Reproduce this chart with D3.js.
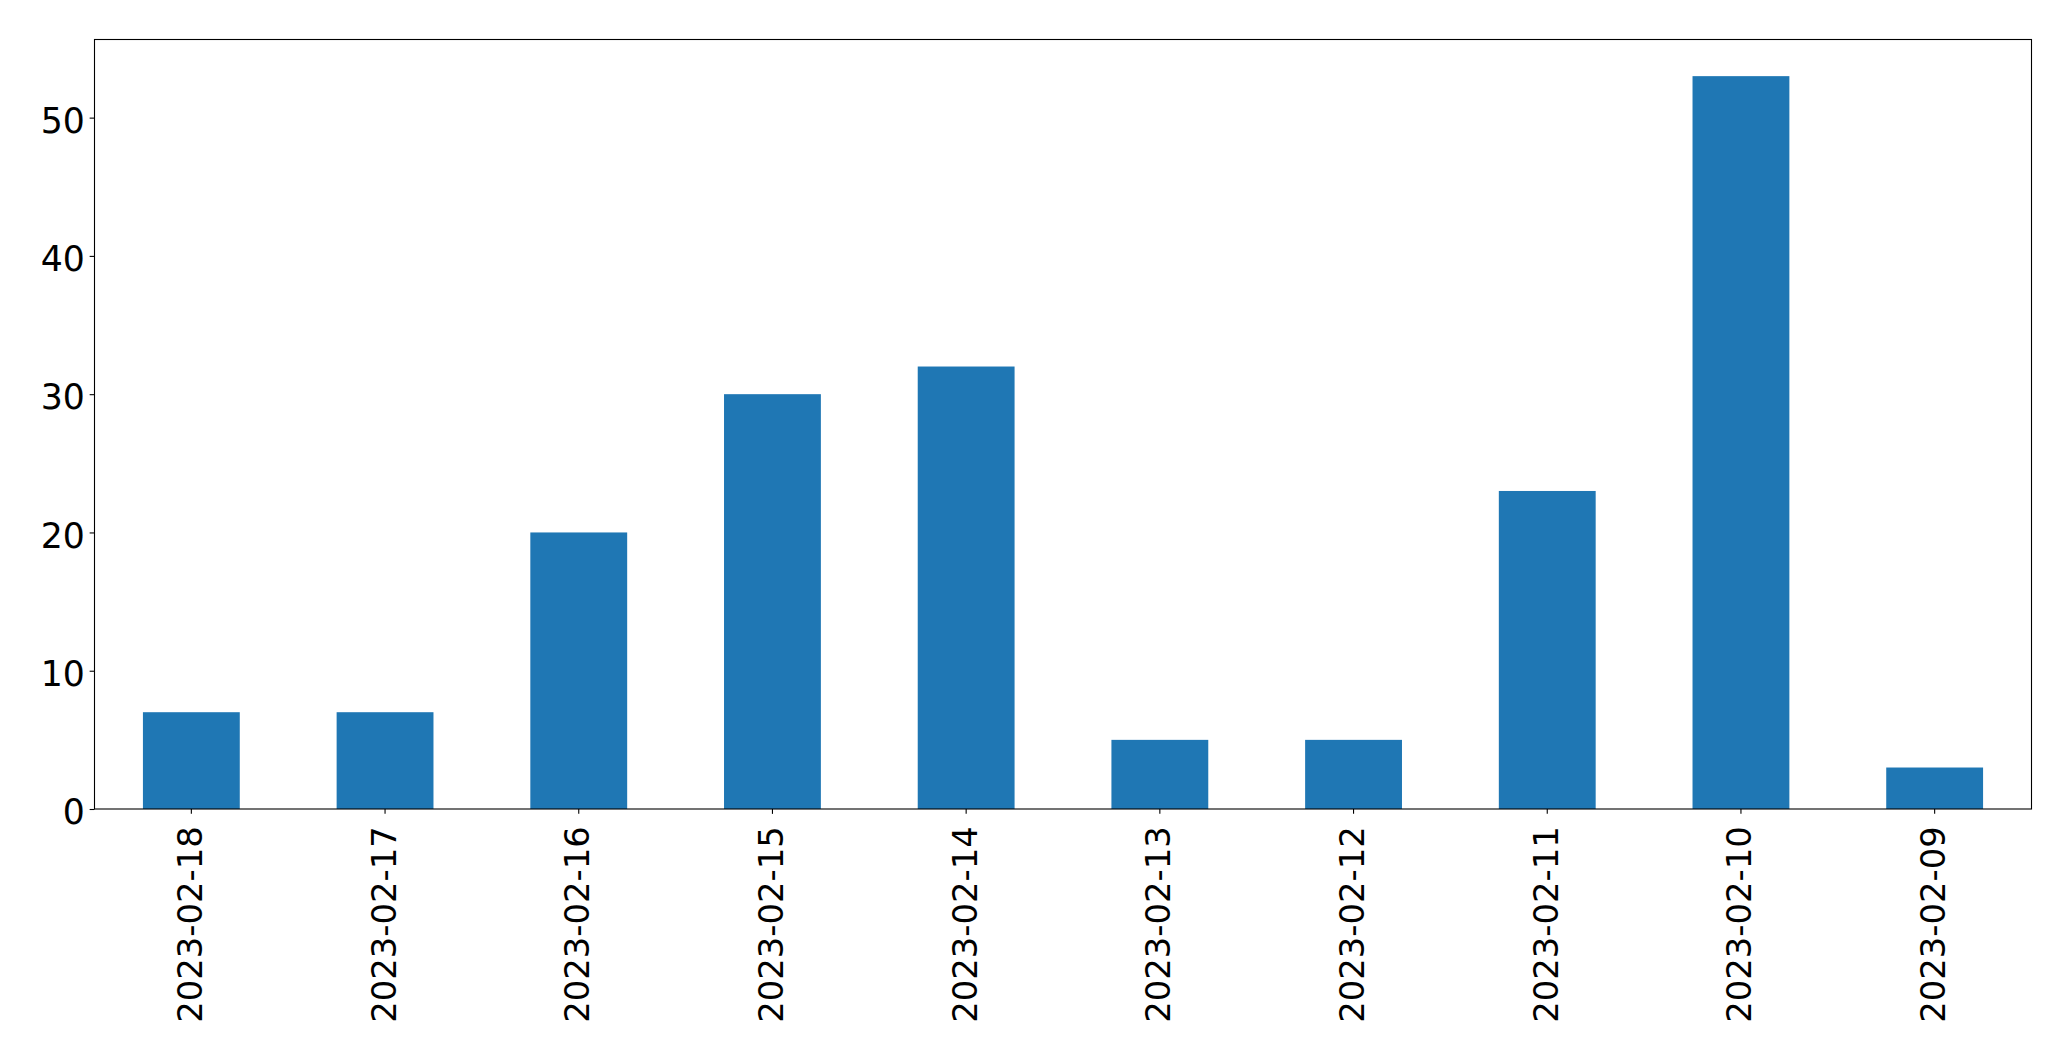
<!DOCTYPE html>
<html>
<head>
<meta charset="utf-8">
<script src="https://cdn.jsdelivr.net/npm/d3@7"></script>
<style>
  body { margin: 0; background: #fff; }
  svg { display: block; }
  text { font-family: "DejaVu Sans", sans-serif; fill: #000; }
</style>
</head>
<body>
<svg width="2071" height="1061"></svg>
<script>
// dates (as listed on the x axis) and counts
var dates = ['2023-02-18', '2023-02-17', '2023-02-16', '2023-02-15', '2023-02-14',
  '2023-02-13', '2023-02-12', '2023-02-11', '2023-02-10', '2023-02-09'];
var counts = [7, 7, 20, 30, 32, 5, 5, 23, 53, 3];
var yTicks = [0, 10, 20, 30, 40, 50];

var svg = d3.select('svg'),
  width = +svg.attr('width'),
  height = +svg.attr('height');

var margin = { top: 39.5, right: 39.5, bottom: 252, left: 94.5 };
var w = width - margin.left - margin.right,
  h = height - margin.top - margin.bottom;

var g = svg.append('g').attr('transform', 'translate(' + margin.left + ',' + margin.top + ')');

var x = d3.scaleBand().domain(dates).range([0, w]).paddingInner(0.5).paddingOuter(0.25);
var y = d3.scaleLinear().domain([0, d3.max(counts) * 1.05]).range([h, 0]);

g.selectAll('rect.bar')
  .data(dates)
  .enter()
  .append('rect')
  .attr('class', 'bar')
  .attr('x', function (d) { return x(d); })
  .attr('width', x.bandwidth())
  .attr('y', function (d, i) { return y(counts[i]); })
  .attr('height', function (d, i) { return h - y(counts[i]); })
  .attr('fill', '#1f77b4');

var fs = 34.7, tick = 4.86, pad = 4.86;

// y axis
var yAxis = g.append('g').call(d3.axisLeft(y).tickValues(yTicks).tickSize(tick).tickPadding(pad));
yAxis.select('.domain').remove();
yAxis.selectAll('line').attr('stroke', '#000').attr('stroke-width', 1.1);
yAxis.selectAll('text').style('font-size', fs + 'px').attr('font-family', null).attr('dy', '0.42em');

// x axis
var xAxis = g.append('g')
  .attr('transform', 'translate(0,' + h + ')')
  .call(d3.axisBottom(x).tickSize(tick).tickPadding(pad));
xAxis.select('.domain').remove();
xAxis.selectAll('line').attr('stroke', '#000').attr('stroke-width', 1.1);
xAxis.selectAll('text')
  .style('font-size', '33.8px')
  .attr('font-family', null)
  .attr('text-anchor', 'end')
  .attr('dy', null)
  .attr('dominant-baseline', 'central')
  .attr('y', 0)
  .attr('x', 0)
  .attr('transform', 'translate(-1,' + (tick + pad + 7.5) + ') rotate(-90)');

// frame
g.append('rect')
  .attr('width', w)
  .attr('height', h)
  .attr('fill', 'none')
  .attr('stroke', '#000')
  .attr('stroke-width', 1.1);
</script>
</body>
</html>
